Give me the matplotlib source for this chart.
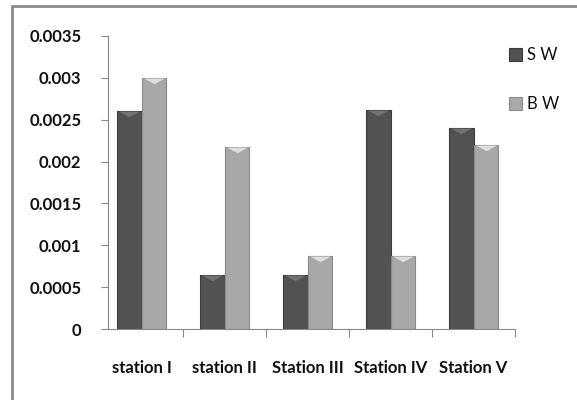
import matplotlib
matplotlib.use('Agg')
import matplotlib.pyplot as plt
import matplotlib.transforms as mtransforms
import numpy as np
from matplotlib.patches import Rectangle

stations = ['station I', 'station II', 'Station III', 'Station IV', 'Station V']
sw = [0.0026, 0.00065, 0.00065, 0.00262, 0.0024]
bw = [0.003, 0.00218, 0.00087, 0.00087, 0.0022]
yticks = [0, 0.0005, 0.001, 0.0015, 0.002, 0.0025, 0.003, 0.0035]
ytick_labels = ['0', '0.0005', '0.001', '0.0015', '0.002', '0.0025', '0.003', '0.0035']

plt.rcParams['font.family'] = ['Lato', 'DejaVu Sans']

fig = plt.figure(figsize=(5.77, 4.0), dpi=100)
fig.patch.set_facecolor('white')

# outer chart frame (cut off on the right and bottom)
fig.patches.append(Rectangle((12 / 577, -0.1), 1.2, 1.1 - 6 / 400, transform=fig.transFigure,
                             fill=False, edgecolor='#8a8a8a', linewidth=2.0))

# y axis sits a bit right of the first category boundary
ax = fig.add_axes([108 / 577, 71 / 400, 407 / 577, 293 / 400])

x = np.arange(len(stations))
w = 0.29
b1 = ax.bar(x - w / 2, sw, w, color='#525252', edgecolor='#3a3a3a', linewidth=0.8, label='S W')
b2 = ax.bar(x + w / 2, bw, w, color='#a8a8a8', edgecolor='#8a8a8a', linewidth=0.8, label='B W')

# shallow bevel triangle across the top of each bar
bevel = [(-1, 0), (1, 0), (0, -0.55), (-1, 0)]
for bars, c in [(b1, '#727272'), (b2, '#dedede')]:
    for r in bars:
        cx = r.get_x() + r.get_width() / 2
        ax.plot(cx, r.get_height(), marker=bevel, markersize=15, color=c, markeredgewidth=0)

ax.set_xlim(-0.5 + 8 / 83, 4.5)
ax.set_ylim(0, 0.0035)
ax.set_yticks(yticks)
ax.set_yticklabels(ytick_labels, fontsize=12, fontweight='bold', color='#111111')
ax.set_xticks(np.arange(0.5, 5, 1))
ax.set_xticklabels([])
ax.set_xticks(x, minor=True)
ax.set_xticklabels(stations, minor=True, fontsize=12, fontweight='bold', color='#111111')
ax.tick_params(axis='x', which='minor', length=0, pad=22)
ax.tick_params(axis='x', which='major', length=6, color='#888888', direction='out')
ax.tick_params(axis='y', length=5, color='#888888', pad=14)

for s in ['top', 'right']:
    ax.spines[s].set_visible(False)
ax.spines['left'].set_color('#888888')
ax.spines['bottom'].set_color('#888888')

leg = ax.legend(handles=[b1, b2], loc='upper left', bbox_to_anchor=(494 / 577, 368 / 400),
                bbox_transform=fig.transFigure, frameon=False, fontsize=12,
                handlelength=0.8, handleheight=0.8, handletextpad=0.3, labelspacing=2.0)
for t in leg.get_texts():
    t.set_color('#111111')

fig.savefig('out.png', dpi=100)
